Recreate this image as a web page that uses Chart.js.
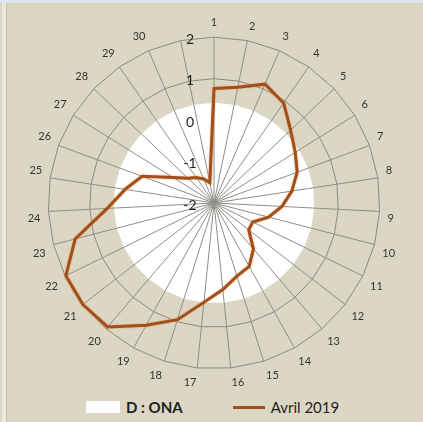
<!DOCTYPE html>
<html>
<head>
<meta charset="utf-8">
<script src="https://cdn.jsdelivr.net/npm/chart.js@4.4.1/dist/chart.umd.min.js"></script>
<style>
  html, body { margin: 0; padding: 0; }
  body { width: 423px; height: 422px; background: #dcd7c4; position: relative; overflow: hidden; font-family: Lato, "Open Sans", sans-serif; }
  #topStrip { position: absolute; left: 0; top: 0; width: 423px; height: 3px; background: #dfe5ee; }
  #leftStrip { position: absolute; left: 2px; top: 3px; width: 4px; height: 419px; background: #ecebe3; border-right: 1px solid #c2bfb3; }
  #chartBox { position: absolute; left: 0; top: 0; width: 423px; height: 392px; }
  #legend { position: absolute; left: 0; top: 394px; width: 423px; height: 26px; display: flex; align-items: center; padding-left: 86px; box-sizing: border-box; font-size: 15px; color: #1e1e1e; }
  .item { display: flex; align-items: center; margin-right: 50px; }
  .swatch { width: 34px; height: 12px; margin-right: 6px; }
</style>
</head>
<body>
<div id="topStrip"></div>
<div id="leftStrip"></div>
<div id="chartBox"><canvas id="radarChart"></canvas></div>
<div id="legend"></div>
<script>
// jours d'avril (31e axe sans libellé)
const dayLabels = ['1','2','3','4','5','6','7','8','9','10','11','12','13','14','15',
  '16','17','18','19','20','21','22','23','24','25','26','27','28','29','30',''];

const onaValues = [0.42,0.42,0.42,0.42,0.42,0.42,0.42,0.42,0.42,0.42,0.42,0.42,0.42,0.42,0.42,0.42,
  0.42,0.42,0.42,0.42,0.42,0.42,0.42,0.42,0.42,0.42,0.42,0.42,0.42,0.42,0.42];

const avrilValues = [0.76, 0.85, 1.12, 0.94, 0.55, 0.31, 0.14, -0.10, -0.36, -0.64,
  -0.96, -0.94, -0.54, -0.25, -0.15, 0.10, 0.41, 0.95, 1.37, 1.94,
  2.0, 1.98, 1.46, 0.58, 0.17, -0.15, -0.84, -1.13, -1.25, -1.37, -1.5];

const scaleMin = -2;
const scaleMax = 2;

// angle lines over the white area + value labels
const radarOverlay = {
  id: 'radarOverlay',
  beforeDatasetDraw(chart, args) {
    if (args.index !== 1) return;
    const r = chart.scales.r;
    const ctx = chart.ctx;
    ctx.save();
    ctx.strokeStyle = '#8e8e88';
    ctx.lineWidth = 1;
    for (let i = 0; i < chart.data.labels.length; i++) {
      const p = r.getPointPosition(i, r.drawingArea);
      ctx.beginPath();
      ctx.moveTo(r.xCenter, r.yCenter);
      ctx.lineTo(p.x, p.y);
      ctx.stroke();
    }
    ctx.restore();
    // soft orange edge round the brown line
    ctx.save();
    ctx.shadowColor = 'rgba(235,140,60,0.8)';
    ctx.shadowBlur = 2;
  },
  afterDatasetDraw(chart, args) {
    if (args.index !== 1) return;
    chart.ctx.restore();
  },
  afterDatasetsDraw(chart) {
    const r = chart.scales.r;
    const ctx = chart.ctx;
    ctx.save();
    ctx.font = '14px Lato';
    ctx.fillStyle = '#222';
    ctx.textAlign = 'center';
    ctx.textBaseline = 'middle';
    r.ticks.forEach(t => {
      const d = r.getDistanceFromCenterForValue(t.value);
      ctx.fillText(t.label, r.xCenter - 24, r.yCenter - d + 2);
    });
    ctx.restore();
  }
};

const chart = new Chart(document.getElementById('radarChart').getContext('2d'), {
  type: 'radar',
  data: {
    labels: dayLabels,
    datasets: [
      {
        label: 'D : ONA',
        data: onaValues,
        backgroundColor: '#ffffff',
        borderWidth: 0,
        fill: 'start',
        pointRadius: 0,
        order: 2
      },
      {
        label: 'Avril 2019',
        data: avrilValues,
        borderColor: '#a0501c',
        borderWidth: 3,
        fill: false,
        pointRadius: 0,
        tension: 0,
        order: 1
      }
    ]
  },
  options: {
    responsive: true,
    maintainAspectRatio: false,
    animation: false,
    layout: { padding: { top: 16, bottom: 2, left: 25, right: 24 } },
    plugins: {
      legend: { display: false },
      tooltip: { enabled: false }
    },
    scales: {
      r: {
        min: scaleMin,
        max: scaleMax,
        ticks: { stepSize: 1, display: false },
        grid: { color: '#8a8a84', lineWidth: 1 },
        angleLines: { display: false },
        pointLabels: { font: { family: 'Lato', size: 11 }, color: '#333', padding: 8 }
      }
    }
  },
  plugins: [radarOverlay]
});

// legend built from the datasets
const legend = document.getElementById('legend');
chart.data.datasets.forEach((ds, i) => {
  const item = document.createElement('div');
  item.className = 'item';
  const sw = document.createElement('span');
  sw.className = 'swatch';
  if (i === 0) {
    sw.style.background = ds.backgroundColor;
  } else {
    sw.style.height = '3px';
    sw.style.width = '32px';
    sw.style.background = ds.borderColor;
  }
  const txt = document.createElement('span');
  txt.textContent = ds.label;
  if (i === 0) txt.style.fontWeight = 'bold';
  item.appendChild(sw);
  item.appendChild(txt);
  legend.appendChild(item);
});
</script>
</body>
</html>
